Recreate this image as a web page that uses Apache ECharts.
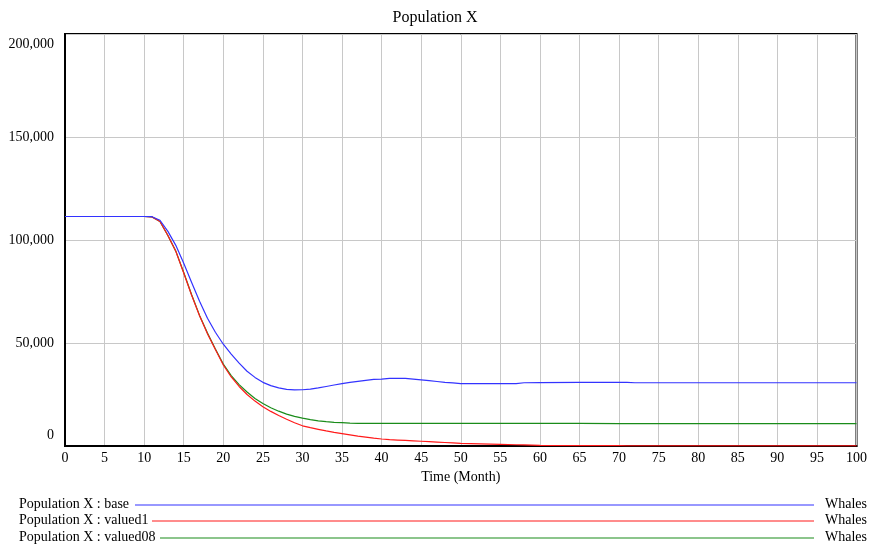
<!DOCTYPE html>
<html>
<head>
<meta charset="utf-8">
<script src="https://cdn.jsdelivr.net/npm/echarts@6/dist/echarts.min.js"></script>
<style>
html,body{margin:0;padding:0;background:#fff;}
#chart{width:870px;height:550px;}
</style>
</head>
<body>
<div id="chart"></div>
<script>
const chartTitle = 'Population X';
const xAxisName = 'Time (Month)';
const unitLabel = 'Whales';
const seriesNames = ['Population X : base', 'Population X : valued1', 'Population X : valued08'];
const xTicks = [0,5,10,15,20,25,30,35,40,45,50,55,60,65,70,75,80,85,90,95,100];
const yTicks = [0,50000,100000,150000,200000];

const months = [0,5,10,11,12,13,14,15,16,17,18,19,20,21,22,23,24,25,26,27,28,29,30,31,32,33,34,35,36,37,38,39,40,41,42,43,44,45,46,47,48,49,50,55,57,58,60,65,70,71,72,75,80,85,90,95,100];

const base = [111400,111400,111400,111300,109600,104200,97400,88700,79400,70300,62000,55200,49400,44600,40200,36300,33300,30900,29300,28200,27500,27200,27300,27600,28200,28900,29600,30300,30900,31400,31900,32300,32500,32800,32900,32800,32500,32100,31700,31300,30900,30600,30300,30300,30300,30700,30800,30900,30900,30900,30700,30700,30700,30700,30700,30700,30700];

const valued1 = [111400,111400,111400,111200,109000,102200,94500,84000,73200,63200,54500,46800,39300,33500,28900,25000,21800,19100,16800,14800,13000,11300,9800,8900,8100,7300,6600,6000,5400,4800,4300,3800,3400,3100,2900,2700,2500,2300,2100,1900,1700,1500,1300,800,600,500,300,200,150,100,100,100,100,100,100,100,100];

const valued08 = [111400,111400,111400,111200,109000,102200,94600,84200,73400,63400,54800,47100,39800,34200,29800,26200,23100,20600,18600,16900,15500,14400,13500,12800,12200,11800,11500,11300,11100,11000,11000,11000,11000,11000,11000,11000,11000,11000,11000,11000,11000,11000,11000,11000,11000,11000,11000,11000,10900,10900,10900,10900,10900,10900,10900,10900,10900];

const colors = ['#3333ff', '#ff1a1a', '#1a8c1a'];
const FONT = '"Liberation Serif", "DejaVu Serif", serif';
const FS = 14;

function pairs(vals){ return months.map((m,i)=>[m, vals[i]]); }
const allSeries = [base, valued1, valued08];

const chart = echarts.init(document.getElementById('chart'), null, {renderer:'canvas'});

const legendRows = [];
const rowY = [505, 521, 538];
const lineStarts = [135, 152, 160];
seriesNames.forEach((n, i) => {
  legendRows.push({
    type:'text', left: 19, top: rowY[i] - 8,
    style:{text:n, font: FS + 'px ' + FONT, fill:'#000'}
  });
  legendRows.push({
    type:'line', shape:{x1:lineStarts[i], y1:rowY[i], x2:814, y2:rowY[i]},
    style:{stroke:colors[i], lineWidth:1.2}
  });
  legendRows.push({
    type:'text', left: 825, top: rowY[i] - 8,
    style:{text:unitLabel, font: FS + 'px ' + FONT, fill:'#000'}
  });
});

const option = {
  animation:false,
  backgroundColor:'#fff',
  title:{
    text: chartTitle, left:'center', top:5,
    textStyle:{fontFamily:FONT, fontSize:16, fontWeight:'normal', color:'#000'}
  },
  grid:{left:65, right:9, top:34, bottom:104, show:true, borderColor:'#000', borderWidth:2, containLabel:false},
  xAxis:{
    type:'value', min:0, max:100, interval:5,
    name: xAxisName, nameLocation:'middle', nameGap:23,
    nameTextStyle:{fontFamily:FONT, fontSize:FS, color:'#000'},
    axisLine:{show:true, lineStyle:{color:'#000', width:2}},
    axisTick:{show:false},
    axisLabel:{fontFamily:FONT, fontSize:FS, color:'#000', margin:5,
      formatter: v => xTicks.includes(v) ? String(v) : ''},
    splitLine:{show:true, lineStyle:{color:'#c8c8c8', width:1}}
  },
  yAxis:{
    type:'value', min:0, max:200000, interval:50000,
    axisLine:{show:true, lineStyle:{color:'#000', width:2}},
    axisTick:{show:false},
    axisLabel:{fontFamily:FONT, fontSize:FS, color:'#000', margin:11, lineHeight:21,
      verticalAlignMinLabel:'bottom', verticalAlignMaxLabel:'top',
      formatter: v => yTicks.includes(v) ? v.toLocaleString('en-US') : ''},
    splitLine:{show:true, lineStyle:{color:'#c8c8c8', width:1}}
  },
  series: allSeries.map((vals, i) => ({
    name: seriesNames[i], type:'line', data: pairs(vals),
    showSymbol:false, smooth:false, z: 10 - i,
    lineStyle:{color:colors[i], width:1.2},
    itemStyle:{color:colors[i]}
  })),
  graphic: legendRows
};
chart.setOption(option);
</script>
</body>
</html>
